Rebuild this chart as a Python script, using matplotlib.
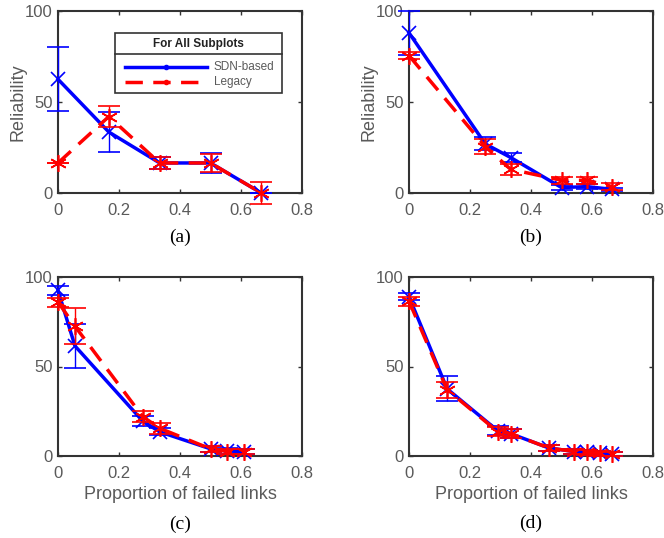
import matplotlib.pyplot as plt
from matplotlib.lines import Line2D
from matplotlib.patches import Rectangle

plt.rcParams['font.family'] = ['Liberation Sans', 'DejaVu Sans']

# (a)
xa = [0, 1/6, 1/3, 1/2, 2/3]
sdn_a = [62.5, 33.5, 16.5, 16.5, 0]
sdn_a_err = [17.5, 11, 3.5, 5.5, 0]
leg_a = [16.5, 42, 16.5, 16.5, 0]
leg_a_err = [0, 6, 3.5, 5, 6]

# (b)
xb = [0, 0.25, 1/3, 0.5, 7/12, 2/3]
sdn_b = [88, 27, 19.5, 3, 3.5, 2]
sdn_b_err = [12, 3.5, 2.5, 1.5, 1.5, 1]
leg_b = [75.5, 25.5, 13, 7, 7, 3.5]
leg_b_err = [2, 4, 3, 2, 2, 2]

# (c)
xc = [0, 1/18, 5/18, 6/18, 9/18, 10/18, 11/18]
sdn_c = [92.5, 61.5, 19.5, 13.5, 4, 2.8, 2.4]
sdn_c_err = [2.5, 12.5, 3, 2, 1.5, 1.5, 1.5]
leg_c = [86, 72.5, 22, 15.5, 4, 2.5, 2.4]
leg_c_err = [2.5, 10, 3, 3, 1.5, 1.5, 1.5]

# (d)
xd = [0, 1/8, 7/24, 8/24, 11/24, 13/24, 14/24, 15/24, 16/24]
sdn_d = [89, 37.5, 14, 12.5, 4.5, 2.5, 2, 1.5, 1.1]
sdn_d_err = [2, 7, 2.5, 2.5, 1.5, 1.5, 1.5, 1.5, 1]
leg_d = [86.5, 37, 13.5, 12.5, 4.5, 2.5, 2, 1.5, 1.1]
leg_d_err = [2.5, 4.5, 2.5, 2.5, 1.5, 1.5, 1.5, 1.5, 1]

panels = [
    ('(a)', xa, sdn_a, sdn_a_err, leg_a, leg_a_err),
    ('(b)', xb, sdn_b, sdn_b_err, leg_b, leg_b_err),
    ('(c)', xc, sdn_c, sdn_c_err, leg_c, leg_c_err),
    ('(d)', xd, sdn_d, sdn_d_err, leg_d, leg_d_err),
]

W, H = 664, 538
fig = plt.figure(figsize=(W / 100, H / 100), dpi=100)


def fx(px):
    return px / W


def fy(py):
    return 1 - py / H


# axes boxes in pixels: left, top, right, bottom
boxes = [(58, 11, 302, 193), (409, 11, 653, 193),
         (58, 277, 302, 456), (409, 277, 653, 456)]
cap_y = [237, 237, 524, 523]

txtgray = '#5a5a5a'
dash = (0, (5, 3))
axes = []
for (cap, x, s, se, l, le), (x0, y0, x1, y1), cy in zip(panels, boxes, cap_y):
    ax = fig.add_axes([fx(x0), fy(y1), fx(x1 - x0), (y1 - y0) / H])
    axes.append(ax)
    for a in ax.errorbar(x, s, yerr=se, color='blue', lw=2.5, marker='x', ms=10,
                         mew=1.2, elinewidth=1.0, capsize=8, capthick=1.0,
                         zorder=3).lines:
        for art in (a if isinstance(a, tuple) else [a]):
            if art is not None:
                art.set_clip_on(False)
    for a in ax.errorbar(x, l, yerr=le, color='red', lw=2.5, ls=dash,
                         marker=(6, 2, 0), ms=12, mew=1.2, elinewidth=1.0,
                         capsize=8, capthick=1.0, zorder=4).lines:
        for art in (a if isinstance(a, tuple) else [a]):
            if art is not None:
                art.set_clip_on(False)
    ax.set_xlim(0, 0.8)
    ax.set_ylim(0, 100)
    ax.set_xticks([0, 0.2, 0.4, 0.6, 0.8])
    ax.set_xticklabels(['0', '0.2', '0.4', '0.6', '0.8'])
    ax.set_yticks([0, 50, 100])
    ax.tick_params(direction='in', top=True, right=True, length=3,
                   width=1, color='#333333', labelcolor=txtgray,
                   labelsize=12)
    ax.tick_params(axis='x', pad=7)
    ax.tick_params(axis='y', pad=4)
    for sp in ax.spines.values():
        sp.set_color('#333333')
        sp.set_linewidth(1.5)
    fig.text(fx(x0 + 122), fy(cy), cap, family='Liberation Serif',
             fontsize=14, ha='center', va='center', color='black')

for ax in axes[:2]:
    ax.set_ylabel('Reliability', fontsize=13, color=txtgray, labelpad=-1)
for ax in axes[2:]:
    ax.set_xlabel('Proportion of failed links', fontsize=13, color=txtgray, labelpad=4)

# legend box drawn by hand (title section with separator)
lx0, ly0, lx1, ly1, lsep = 115, 33, 282, 93, 54
fig.add_artist(Rectangle((fx(lx0), fy(ly1)), fx(lx1 - lx0), (ly1 - ly0) / H,
                         transform=fig.transFigure, facecolor='white',
                         edgecolor='#333333', lw=1.2, zorder=10))
fig.add_artist(Line2D([fx(lx0), fx(lx1)], [fy(lsep), fy(lsep)], color='#333333',
                      lw=1.2, transform=fig.transFigure, zorder=11))
fig.text(fx((lx0 + lx1) / 2), fy(44), 'For All Subplots', fontsize=8.5,
         fontweight='bold', ha='center', va='center', color='#222222', zorder=12)
entries = [('SDN-based', 'blue', '-', 67), ('Legacy', 'red', dash, 82)]
for name, col, ls, yy in entries:
    fig.add_artist(Line2D([fx(125), fx(207)], [fy(yy), fy(yy)], color=col, lw=2.5,
                          ls=ls, transform=fig.transFigure, zorder=12))
    fig.add_artist(Line2D([fx(166)], [fy(yy)], color=col, marker='.', ms=6,
                          transform=fig.transFigure, zorder=12))
    fig.text(fx(214), fy(yy), name, fontsize=8.5, ha='left', va='center',
             color=txtgray, zorder=12)

fig.savefig('out.png', dpi=100)
